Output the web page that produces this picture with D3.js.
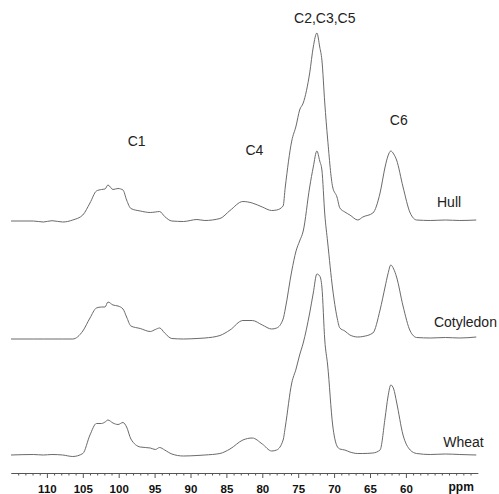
<!DOCTYPE html>
<html><head><meta charset="utf-8">
<script src="https://cdn.jsdelivr.net/npm/d3@7"></script>
<style>html,body{margin:0;padding:0;background:#fff;}svg{display:block;}</style>
</head><body>
<svg id="chart" width="499" height="494"></svg>
<script>
// chemical shift grid (ppm)
const ppm = [115,111.9,110.5,109.3,107.8,106.4,105,104,103.1,102.4,101.9,101.5,100.8,100.1,99.4,98.9,98.3,97,95.6,94.9,94.3,93.6,92.6,91,89.1,88,85.9,84.5,82.7,81.4,80,78.7,78,77.1,76.8,75.9,75.3,74.8,74.3,73.4,72.9,72.4,72,71.7,71.3,70.9,70.2,69.6,69.2,68.5,67.8,66.7,66,64.6,63.6,62.9,62.5,62.1,61.7,61.3,60.4,59.4,58.5,56.6,54.5,52.5,50.2];
const hull = [0,0,-1,0.3,-1,1,6,18,30,31.5,32,36,31.5,32.5,31,21,12.5,10,8.5,9,9.5,4.5,0,-0.5,1.5,0.5,2.5,10.5,19.5,18,14,10.5,11,15,34,80,95,111,118,148,174,188,174,161,118,82,34,24,13,9,6,1,4,8,28,54,65,70,67,61,34,8,1,0.5,1,0.5,1];
const cotyledon = [0,0,0,0,0,0,8,21,31,32,32,37,34,33,30,22,13,10.5,7.5,9.5,11,6,0.5,0,0.5,1,3.5,9,18.5,18.5,14,10,11,20,30,68,88,98,108,152,172,188,178,169,125,97,50,22,11,8,4,2,2.5,6,29,52,65,74,70,62,33,8,1.5,1,1.5,1,2];
const wheat = [0,0.5,0,0.5,0,-1.5,1.5,20,31.5,31.5,33,35,32,30.5,32.5,28,16,8,7,5.5,7.5,5,1,-1,-0.5,0,1.5,6,15,17,11,4,5,15,28,72,86,100,112,142,162,181,179,168,115,90,30,9,6,5,3,1.5,1.5,2,5,37,58,70,66,53,20,5,1.5,0.5,1,0.5,0];
const seriesNames = ["Hull","Cotyledon","Wheat"];
const seriesOffsets = [234,116,0];
const majorTicks = [110,105,100,95,90,85,80,75,70,65,60];
const peakLabels = ["C1","C4","C2,C3,C5","C6"];
const peakPpm = [97.5,81.1,71.3,61.0];
const peakLevel = [309,300,432,330];
const nameLabelPpm = [55.67,56.1,54.8];
const nameLabelLevel = [248,128,8];

const svg = d3.select("#chart");
const x = d3.scaleLinear().domain([115,50]).range([11,477.7]);
const y = d3.scaleLinear().domain([0,450]).range([455,5]);

const seriesData = [hull, cotyledon, wheat];
const line = d3.line().x(d=>x(d[0])).y(d=>y(d[1])).curve(d3.curveMonotoneX);

seriesData.forEach((vals,i)=>{
  const pts = ppm.map((p,j)=>[p, vals[j] + seriesOffsets[i]]);
  svg.append("path").attr("d", line(pts))
    .attr("fill","none").attr("stroke","#6a6a6a").attr("stroke-width",1);
});

// labels
const font = "'Liberation Sans', Arial, sans-serif";
peakLabels.forEach((t,i)=>{
  svg.append("text").attr("x", x(peakPpm[i])).attr("y", y(peakLevel[i]))
    .attr("text-anchor","middle").attr("font-family",font).attr("font-size",14)
    .attr("fill","#222").text(t);
});
seriesNames.forEach((t,i)=>{
  svg.append("text").attr("x", x(nameLabelPpm[i])).attr("y", y(nameLabelLevel[i]))
    .attr("text-anchor","start").attr("font-family",font).attr("font-size",14)
    .attr("fill","#222").text(t);
});

// axis
const axisY = 473;
const minorTicks = d3.range(114,50,-1).filter(v=>!majorTicks.includes(v));
const gMinor = svg.append("g").attr("transform",`translate(0,${axisY})`)
  .call(d3.axisBottom(x).tickValues(minorTicks).tickSize(2.5).tickSizeOuter(0).tickFormat(""));
const gMajor = svg.append("g").attr("transform",`translate(0,${axisY})`)
  .call(d3.axisBottom(x).tickValues(majorTicks).tickSize(5).tickSizeOuter(0).tickFormat(d3.format("d")));
gMinor.selectAll("line").attr("stroke","#555");
gMinor.select(".domain").attr("stroke","#555");
gMajor.select(".domain").attr("stroke","#555");
gMajor.selectAll("line").attr("stroke","#555");
gMajor.selectAll("text").attr("y",20).attr("dy",0)
  .attr("font-family",font).attr("font-size",11.5).attr("font-weight","bold").attr("fill","#111");
svg.append("text").attr("x", x(52.3)).attr("y", axisY+18).attr("text-anchor","middle")
  .attr("font-family",font).attr("font-size",12).attr("font-weight","bold").attr("fill","#111").text("ppm");
</script>
</body></html>
